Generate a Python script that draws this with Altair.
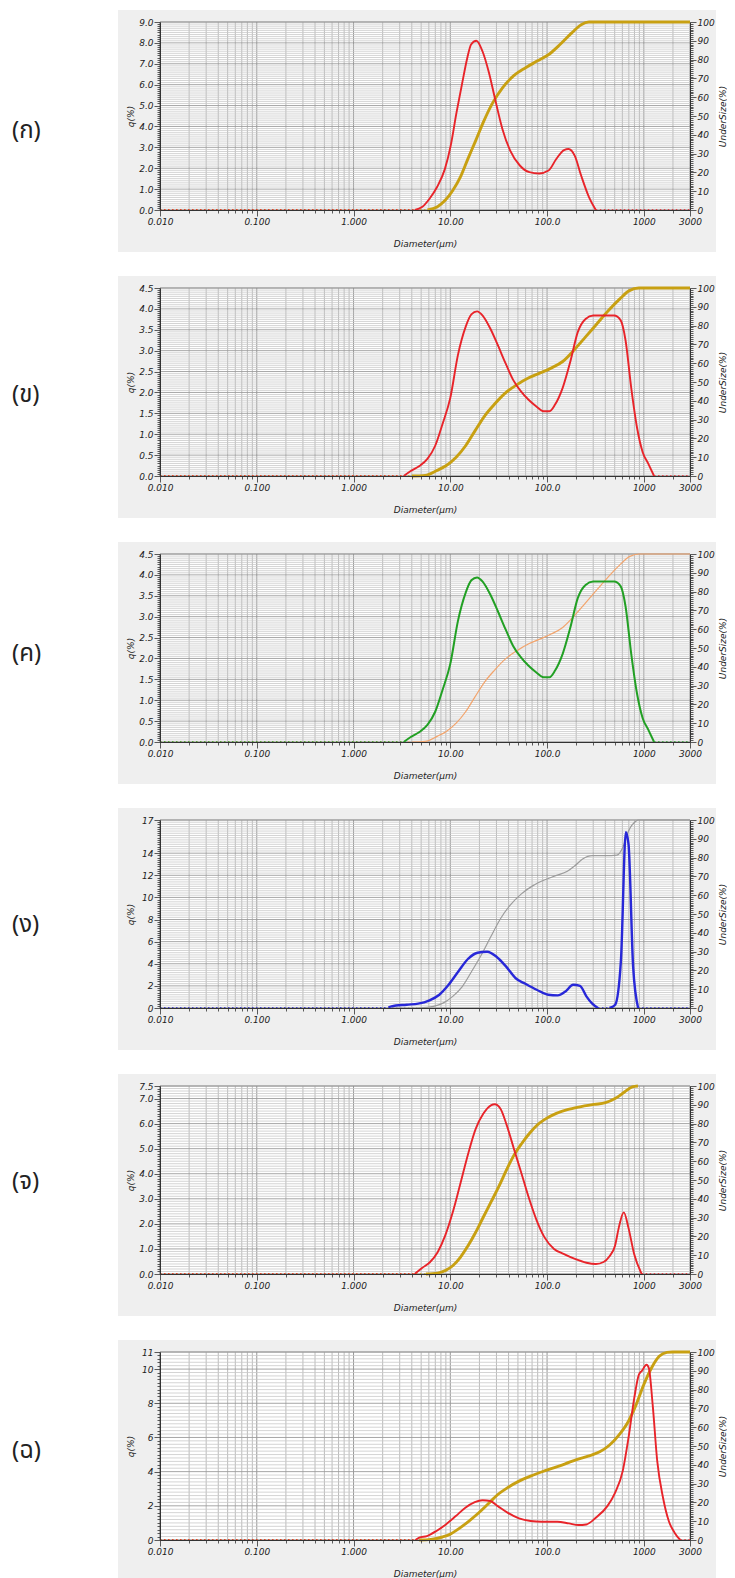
import altair as alt
import pandas as pd

# ---------------- data ----------------
panel_labels = ["(ก)", "(ข)", "(ค)", "(ง)", "(จ)", "(ฉ)"]

x_domain = [0.01, 3000]
x_tick_values = [0.01, 0.1, 1, 10, 100, 1000, 3000]
x_tick_labels = ["0.010", "0.100", "1.000", "10.00", "100.0", "1000", "3000"]
x_decades = [0.01, 0.1, 1, 10, 100, 1000]
x_minor_mult = [1, 2, 3, 4, 5, 6, 7, 8, 9]

# panel ก
d1 = [4.3, 5.1, 6.1, 7.3, 8.8, 10.1, 11.6, 13.3, 15.0, 16.4, 18.6, 21.5, 25.1, 28.8, 34.6,
      41.6, 52.3, 65.6, 82.6, 103.7, 124.5, 149.6, 166.8, 193, 225, 271, 319]
q1 = [0, 0.14, 0.54, 1.1, 1.97, 3.08, 4.67, 6.1, 7.29, 7.92, 8.1, 7.6, 6.57, 5.38, 3.87,
      2.84, 2.13, 1.81, 1.75, 1.89, 2.44, 2.87, 2.92, 2.6, 1.65, 0.62, 0]
du1 = [5.8, 7.3, 8.8, 10.6, 12.7, 15.2, 18.3, 21.9, 27.5, 34.6, 45.6, 60, 78.9, 104, 136,
       180, 225, 271, 3000]
u1 = [0, 1.6, 5, 10.4, 17.5, 27.2, 36.9, 46.6, 57.1, 65, 71.6, 75.7, 79.2, 82.7, 88,
      94.2, 98.6, 100, 100]

# panel ข
d2 = [3.3, 3.9, 4.8, 5.8, 7.0, 8.3, 10, 12, 14.4, 16.5, 18.9, 21.6, 25.9, 31, 37.2, 44.6,
      53.5, 64, 77, 92, 106, 121, 145, 174, 208, 250, 299, 393, 493, 575, 647, 741, 850,
      973, 1114, 1276]
q2 = [0, 0.12, 0.24, 0.41, 0.73, 1.24, 1.87, 2.9, 3.57, 3.87, 3.94, 3.84, 3.53, 3.13, 2.7,
      2.3, 2.03, 1.83, 1.67, 1.55, 1.55, 1.71, 2.11, 2.74, 3.45, 3.76, 3.84, 3.84, 3.84,
      3.73, 3.25, 2.11, 1.16, 0.57, 0.29, 0]
du2 = [4.0, 5.5, 7.3, 9.1, 11.5, 14.4, 18, 22.6, 28.4, 37.2, 48.9, 64, 84, 110, 145, 190,
       250, 328, 431, 565, 708, 889, 3000]
u2 = [0, 0.35, 3, 5.6, 10, 16.1, 24, 31.9, 38, 44.2, 48.6, 52.1, 54.7, 57.4, 60.9, 67, 74,
      81, 88, 94.2, 98.6, 100, 100]

# panel ค
d3 = [3.3, 3.9, 4.8, 5.8, 7.0, 8.3, 10, 12, 14.4, 16.5, 18.9, 21.6, 25.9, 31, 37.2, 44.6,
      53.5, 64, 77, 92, 106, 121, 145, 174, 208, 250, 299, 393, 493, 575, 647, 741, 850,
      973, 1114, 1276]
q3 = [0, 0.12, 0.24, 0.41, 0.73, 1.24, 1.87, 2.9, 3.57, 3.87, 3.94, 3.84, 3.53, 3.13, 2.7,
      2.3, 2.03, 1.83, 1.67, 1.55, 1.55, 1.71, 2.11, 2.74, 3.45, 3.76, 3.84, 3.84, 3.84,
      3.73, 3.25, 2.11, 1.16, 0.57, 0.29, 0]
du3 = [4.0, 5.5, 7.3, 9.1, 11.5, 14.4, 18, 22.6, 28.4, 37.2, 48.9, 64, 84, 110, 145, 190,
       250, 328, 431, 565, 708, 889, 3000]
u3 = [0, 0.35, 3, 5.6, 10, 16.1, 24, 31.9, 38, 44.2, 48.6, 52.1, 54.7, 57.4, 60.9, 67, 74,
      81, 88, 94.2, 98.6, 100, 100]

# panel ง
d4 = [2.3, 2.46, 3.54, 4.65, 6.1, 7.7, 9.6, 12.1, 15.2, 19.1, 24, 30, 37.8, 47.4, 59.6, 78,
      103, 129, 155, 186, 219, 255, 293, 336, 441, 506, 580, 652, 695, 775, 873]
q4 = [0.05, 0.15, 0.3, 0.39, 0.69, 1.2, 2.1, 3.3, 4.43, 5.0, 5.09, 4.64, 3.74, 2.69, 2.19,
      1.65, 1.2, 1.14, 1.5, 2.1, 2.0, 1.05, 0.39, 0, 0, 0.3, 4.3, 15.9, 14.8, 3.74, 0]
seg4 = [0] * 24 + [1] * 7
du4 = [4.65, 6.7, 8.4, 10.6, 13.3, 16.6, 20.9, 26.2, 33, 41.4, 54.3, 71.4, 93.8, 123, 162,
       194, 233, 293, 403, 528, 606, 695, 834, 873, 3000]
u4 = [0, 0.9, 2.6, 6.2, 11.4, 19.4, 28.2, 37.9, 47.5, 54.6, 60.7, 65.1, 68.1, 70.4, 72.7,
      75.7, 79.2, 81, 81, 81.3, 85.4, 94.2, 99.5, 100, 100]

# panel จ
d5 = [4.28, 5.1, 6.15, 7.4, 8.85, 10.6, 12.7, 15.3, 18.3, 21.9, 26.3, 28.8, 33, 37.9, 45.4,
      54.5, 65.3, 78.2, 93.8, 118, 148, 194, 255, 320, 384, 440, 504, 552, 621, 692, 794, 951]
q5 = [0, 0.24, 0.47, 0.87, 1.53, 2.46, 3.6, 4.8, 5.79, 6.39, 6.73, 6.77, 6.59, 5.99, 5.0,
      4.0, 3.0, 2.13, 1.47, 1.0, 0.8, 0.6, 0.45, 0.4, 0.48, 0.7, 1.13, 1.86, 2.46, 1.86, 0.8, 0]
du5 = [5.6, 7.4, 8.85, 10.6, 12.7, 15.3, 18.3, 21.9, 26.3, 31.5, 37.9, 45.4, 54.5, 65.3,
       78.2, 93.8, 123, 162, 212, 305, 401, 504, 632, 759, 869]
u5 = [0, 0.5, 1.8, 4.4, 8.9, 15.1, 22.2, 30.2, 38.2, 46.2, 55.1, 63.1, 69.3, 74.6, 79, 82.1,
      85.3, 87.4, 88.8, 90.2, 91.1, 93.3, 96.8, 99.5, 100]

# panel ฉ
d6 = [4.36, 4.77, 5.73, 7.2, 9.0, 11.4, 14.3, 17.9, 21.5, 25.9, 31, 39, 51.3, 67.5, 88.8,
      128, 168, 211, 254, 319, 420, 504, 605, 694, 796, 888, 955, 1066, 1127, 1234, 1376,
      1579, 1811, 2077, 2383]
q6 = [0, 0.14, 0.23, 0.53, 0.91, 1.4, 1.89, 2.22, 2.33, 2.28, 1.98, 1.6, 1.26, 1.11, 1.07,
      1.07, 0.97, 0.88, 0.91, 1.3, 1.98, 2.76, 4.03, 5.97, 8.3, 9.67, 9.9, 10.25, 10.06,
      7.92, 4.61, 2.47, 1.11, 0.43, 0]
du6 = [4.77, 6.3, 8.3, 9.9, 12.4, 15.6, 19.7, 24.7, 31, 39, 51.3, 67.5, 88.8, 117, 154,
       202, 266, 350, 440, 552, 694, 833, 1000, 1200, 1442, 1730, 1986, 3000]
u6 = [0, 0.35, 1.6, 3, 6.2, 10.1, 14.5, 19.3, 24.2, 27.8, 31.3, 34, 36.3, 38.4, 40.5, 42.8,
      44.6, 46.9, 50.4, 55.8, 63.2, 72, 82.7, 91.5, 97.7, 99.8, 100, 100]

q_max = [9.0, 4.5, 4.5, 17, 7.5, 11]
q_major = [
    [0.0, 1.0, 2.0, 3.0, 4.0, 5.0, 6.0, 7.0, 8.0, 9.0],
    [0.0, 0.5, 1.0, 1.5, 2.0, 2.5, 3.0, 3.5, 4.0, 4.5],
    [0.0, 0.5, 1.0, 1.5, 2.0, 2.5, 3.0, 3.5, 4.0, 4.5],
    [0, 2, 4, 6, 8, 10, 12, 14, 17],
    [0.0, 1.0, 2.0, 3.0, 4.0, 5.0, 6.0, 7.0, 7.5],
    [0, 2, 4, 6, 8, 10, 11],
]
q_minor_step = [0.1, 0.05, 0.05, 0.2, 0.1, 0.2]
q_format = [".1f", ".1f", ".1f", "d", ".1f", "d"]
u_major_step = 10

q_colors = ["#e8242a", "#e8242a", "#22a024", "#2828d8", "#e8242a", "#e8242a"]
q_widths = [1.9, 1.9, 2.0, 2.4, 1.9, 1.9]
u_colors = ["#c8a012", "#c8a012", "#f2a46c", "#9c9c9c", "#c8a012", "#c8a012"]
u_widths = [2.9, 2.9, 1.2, 1.2, 2.9, 2.9]

panels_q = [(d1, q1, None), (d2, q2, None), (d3, q3, None), (d4, q4, seg4), (d5, q5, None), (d6, q6, None)]
panels_u = [(du1, u1), (du2, u2), (du3, u3), (du4, u4), (du5, u5), (du6, u6)]

# ---------------- styling ----------------
W, H = 530, 188
FONT = "DejaVu Sans"
INK = "#222222"
BOX = "#efefef"
LABEL_Y = [109, 107, 100, 105, 96, 99]

x_grid_values = [v for v in (round(m * dec, 6) for dec in x_decades for m in x_minor_mult) if v <= x_domain[1]] + [2000, 3000]
x_grid_values = sorted(set(x_grid_values))
x_major_test = "indexof(%s, datum.value) >= 0" % str(x_tick_values)
x_label_expr = ""
for v, lab in zip(x_tick_values, x_tick_labels):
    x_label_expr += "datum.value == %s ? '%s' : " % (v, lab)
x_label_expr += "''"

x_scale = alt.Scale(type="log", domain=x_domain, nice=False)
x_axis = alt.Axis(
    values=x_grid_values, labelExpr=x_label_expr, grid=False, zindex=1,
    tickSize={"condition": {"test": x_major_test, "value": 6}, "value": 3},
    tickColor="#333", tickWidth=0.8, domainColor="#333", domainWidth=1,
    labelFont=FONT, labelFontStyle="italic", labelFontSize=9, labelColor=INK,
    labelOverlap=False, labelFlush=False, labelPadding=1,
    title="Diameter(μm)", titleFont=FONT, titleFontStyle="italic", titleFontWeight="normal",
    titleFontSize=9, titleColor=INK, titleX=W / 2, titleY=33, titleBaseline="middle",
    titleAlign="center",
)
x_enc = alt.X("d:Q", scale=x_scale, axis=x_axis)

u_values = list(range(0, 101))
u_axis = alt.Axis(
    orient="right", values=u_values, grid=False, zindex=1,
    labelExpr="datum.value %% %d == 0 ? format(datum.value, 'd') : ''" % u_major_step,
    tickSize={"condition": {"test": "datum.value %% %d == 0" % u_major_step, "value": 6}, "value": 3},
    tickColor="#333", tickWidth=0.8, domainColor="#333",
    labelFont=FONT, labelFontStyle="italic", labelFontSize=9, labelColor=INK,
    labelOverlap=False, labelFlush=False, labelPadding=1,
    title="UnderSize(%)", titleFont=FONT, titleFontStyle="italic", titleFontWeight="normal",
    titleFontSize=9, titleColor=INK, titleX=32, titleY=H / 2, titleAngle=-90,
    titleAlign="center", titleBaseline="middle",
)
u_enc = alt.Y("u:Q", scale=alt.Scale(domain=[0, 100], nice=False), axis=u_axis)

one_row = alt.Data(values=[{"k": 0}])


def box(x1, x2, y1, y2, fill, stroke=None, opacity=1):
    kw = dict(fill=fill, fillOpacity=opacity)
    if stroke:
        kw.update(stroke=stroke, strokeWidth=1)
    return alt.Chart(one_row).mark_rect(**kw).encode(
        x=alt.value(x1), x2=alt.value(x2), y=alt.value(y1), y2=alt.value(y2))


def panel(i):
    dq, q, seg = panels_q[i]
    du, u = panels_u[i]
    if seg is None:
        seg = [0] * len(dq)
    qmax = q_max[i]
    majors = q_major[i]
    step = q_minor_step[i]
    n = int(round(qmax / step))
    minor_vals = [round(k * step, 4) for k in range(n + 1)]
    maj_test = "indexof(%s, datum.value) >= 0" % str(majors)
    q_scale = alt.Scale(domain=[0, qmax], nice=False, zero=True)
    q_axis = alt.Axis(
        orient="left", values=minor_vals, grid=False, zindex=1,
        labelExpr="%s ? format(datum.value, '%s') : ''" % (maj_test, q_format[i]),
        tickSize={"condition": {"test": maj_test, "value": 6}, "value": 3},
        tickColor="#333", tickWidth=0.8, domainColor="#333",
        labelFont=FONT, labelFontStyle="italic", labelFontSize=9, labelColor=INK,
        labelOverlap=False, labelFlush=False, labelPadding=1,
        title="q(%)", titleFont=FONT, titleFontStyle="italic", titleFontWeight="normal",
        titleFontSize=9, titleColor=INK, titleX=-30, titleY=H / 2, titleAngle=-90,
        titleAlign="center", titleBaseline="middle",
    )
    q_enc = alt.Y("q:Q", scale=q_scale, axis=q_axis)

    # grid lines at the axis tick positions
    df_vgrid = pd.DataFrame({"d": x_grid_values})
    df_vgrid["major"] = df_vgrid["d"].isin(x_decades)
    df_hgrid = pd.DataFrame({"g": minor_vals})
    df_hgrid["major"] = df_hgrid["g"].isin(majors)

    vgrid_minor = alt.Chart(df_vgrid[~df_vgrid["major"]]).mark_rule(color="#aaaaaa", strokeWidth=0.8).encode(x=x_enc)
    vgrid_major = alt.Chart(df_vgrid[df_vgrid["major"]]).mark_rule(color="#8a8a8a", strokeWidth=0.9).encode(x=x_enc)
    hgrid_minor = alt.Chart(df_hgrid[~df_hgrid["major"]]).mark_rule(color="#c9c9c9", strokeWidth=0.8).encode(
        y=alt.Y("g:Q", scale=q_scale, axis=None))
    hgrid_major = alt.Chart(df_hgrid[df_hgrid["major"]]).mark_rule(color="#9c9c9c", strokeWidth=0.9).encode(
        y=alt.Y("g:Q", scale=q_scale, axis=None))

    df_q = pd.DataFrame({"d": dq, "q": q, "seg": seg})
    dot_rows = [{"d": x_domain[0], "q": 0, "g": "a"}, {"d": dq[0], "q": 0, "g": "a"}]
    for k in range(1, len(dq)):
        if seg[k] != seg[k - 1]:
            dot_rows += [{"d": dq[k - 1], "q": 0, "g": "m%d" % k}, {"d": dq[k], "q": 0, "g": "m%d" % k}]
    if q[-1] == 0:
        dot_rows += [{"d": dq[-1], "q": 0, "g": "z"}, {"d": x_domain[1], "q": 0, "g": "z"}]
    df_qdot = pd.DataFrame(dot_rows)
    df_u = pd.DataFrame({"d": du, "u": u})
    df_udot = pd.DataFrame({"d": [x_domain[0], du[0]], "u": [0, 0]})

    u_dot = alt.Chart(df_udot).mark_line(color=u_colors[i], strokeWidth=1.3, strokeDash=[1.5, 2.5]).encode(x=x_enc, y=u_enc)
    u_line = alt.Chart(df_u).mark_line(color=u_colors[i], strokeWidth=u_widths[i], interpolate="monotone").encode(x=x_enc, y=u_enc)
    q_dot = alt.Chart(df_qdot).mark_line(color=q_colors[i], strokeWidth=1.3, strokeDash=[1.5, 2.5]).encode(x=x_enc, y=q_enc, detail="g:N")
    q_line = alt.Chart(df_q).mark_line(color=q_colors[i], strokeWidth=q_widths[i], interpolate="monotone").encode(x=x_enc, y=q_enc, detail="seg:N")

    lab = alt.Chart(pd.DataFrame({"label": [panel_labels[i]]})).mark_text(
        align="left", baseline="middle", fontSize=24, color=INK,
        font="Noto Sans Thai, Loma, Garuda, Sarabun, sans-serif",
    ).encode(x=alt.value(-148), y=alt.value(LABEL_Y[i]), text="label:N")

    return alt.layer(
        box(-152, -151, -14, -13, "white", opacity=0),   # invisible anchor for the margins
        box(-42, 556, -12, 230, BOX),                      # grey panel frame
        box(0, W, 0, H, "white", stroke="#9a9a9a"),        # plot area
        vgrid_minor, vgrid_major, hgrid_minor, hgrid_major,
        lab,
        alt.layer(u_dot, u_line),
        alt.layer(q_dot, q_line),
    ).resolve_scale(y="independent").properties(width=W, height=H)


chart = alt.vconcat(*[panel(i) for i in range(6)], spacing=22).properties(
    padding={"left": 0, "top": 0, "right": 0, "bottom": 0}, background="white"
).configure_view(stroke=None)

chart.save("out.html", embed_options={"renderer": "svg", "actions": False})
